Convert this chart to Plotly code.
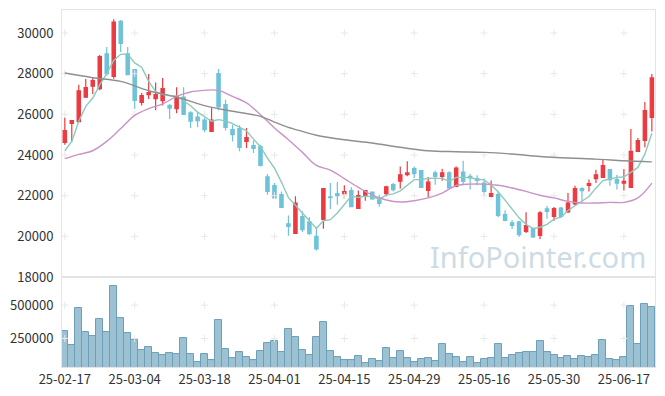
import plotly.graph_objects as go
from plotly.subplots import make_subplots

dates = [
    "25-02-17", "25-02-18", "25-02-19", "25-02-20", "25-02-21", "25-02-24", "25-02-25", "25-02-26", "25-02-27", "25-02-28",
    "25-03-04", "25-03-05", "25-03-06", "25-03-07", "25-03-10", "25-03-11", "25-03-12", "25-03-13", "25-03-14", "25-03-17",
    "25-03-18", "25-03-19", "25-03-20", "25-03-21", "25-03-24", "25-03-25", "25-03-26", "25-03-27", "25-03-28", "25-03-31",
    "25-04-01", "25-04-02", "25-04-03", "25-04-04", "25-04-07", "25-04-08", "25-04-09", "25-04-10", "25-04-11", "25-04-14",
    "25-04-15", "25-04-16", "25-04-17", "25-04-18", "25-04-21", "25-04-22", "25-04-23", "25-04-24", "25-04-25", "25-04-28",
    "25-04-29", "25-04-30", "25-05-02", "25-05-07", "25-05-08", "25-05-09", "25-05-12", "25-05-13", "25-05-14", "25-05-15",
    "25-05-16", "25-05-19", "25-05-20", "25-05-21", "25-05-22", "25-05-23", "25-05-26", "25-05-27", "25-05-28", "25-05-29",
    "25-05-30", "25-06-02", "25-06-04", "25-06-05", "25-06-09", "25-06-10", "25-06-11", "25-06-12", "25-06-13", "25-06-16",
    "25-06-17", "25-06-18", "25-06-19", "25-06-20", "25-06-23",
]

open_ = [24620, 25560, 25640, 26840, 27380, 27260, 28980, 27870, 30570, 28970,
         28200, 26590, 26970, 26770, 26670, 26440, 26280, 26850, 26070, 25870,
         25720, 25160, 28000, 26480, 25250, 25300, 24670, 24460, 24410, 22920,
         22490, 22050, 20620, 20150, 20970, 20710, 20000, 20840, 21940, 22100,
         22100, 22250, 21380, 21970, 22180, 21800, 22100, 22540, 22710, 23030,
         23330, 23230, 22260, 23120, 22950, 23120, 22460, 23160, 22950, 22840,
         22620, 21970, 22050, 21070, 20660, 20710, 20250, 20390, 20050, 21350,
         20980, 21390, 21200, 21590, 22350, 22510, 22840, 22900, 23280, 22790,
         22620, 22410, 24180, 24720, 25850]
high = [25850, 25690, 27460, 27740, 27840, 28920, 29310, 30670, 30640, 29310,
        28200, 27050, 27980, 27570, 27790, 26490, 27330, 27330, 26150, 26110,
        25900, 26340, 28230, 26720, 25490, 25460, 25330, 24710, 24510, 23070,
        22620, 22210, 21030, 21970, 21230, 20950, 20460, 22350, 22620, 22670,
        22510, 22410, 22250, 22250, 22210, 22050, 22490, 22620, 23440, 23690,
        23440, 23230, 22920, 23230, 23330, 23200, 23440, 23720, 23070, 23000,
        22840, 22750, 22210, 21280, 20790, 20770, 21180, 20440, 21230, 21510,
        21440, 21440, 22130, 22490, 22410, 22790, 23280, 23800, 23280, 23030,
        23310, 25280, 24840, 26610, 27980]
low = [24510, 24670, 25610, 26800, 27000, 27180, 27900, 27750, 29070, 27950,
       26260, 26430, 26750, 26200, 26430, 25770, 26050, 26000, 25330, 25360,
       25120, 25160, 26200, 25200, 24670, 24180, 24350, 24100, 23430, 22050,
       21840, 21390, 20030, 20150, 20210, 20080, 19300, 20380, 21350, 21560,
       21850, 21430, 21350, 21750, 21800, 21460, 21970, 22210, 22350, 22950,
       22870, 22380, 21940, 22540, 22740, 22350, 22420, 22510, 22300, 22510,
       22050, 21920, 20940, 20740, 20360, 19970, 20170, 19920, 19870, 20870,
       20770, 20900, 21150, 21530, 21720, 22210, 22620, 22870, 22490, 22300,
       22260, 22410, 24340, 24380, 25160]
close = [25200, 25690, 27160, 27310, 27660, 28840, 28000, 30540, 29490, 27950,
         26690, 26920, 27070, 26970, 27260, 26310, 26870, 26000, 25660, 25690,
         25250, 25720, 26360, 25360, 25000, 24380, 24850, 24330, 23490, 22210,
         21890, 21430, 20490, 21640, 20330, 20130, 19380, 22350, 21900, 22000,
         22200, 21460, 22000, 22250, 21840, 21620, 22430, 22300, 23030, 23120,
         23080, 22410, 22670, 22950, 23120, 22380, 23360, 22710, 22870, 22750,
         22210, 22100, 21030, 20790, 20540, 20080, 20530, 19970, 21150, 21230,
         21360, 20980, 21640, 22350, 22250, 22590, 23030, 23480, 22790, 22620,
         22710, 24180, 24710, 26180, 27790]
volume = [309800, 204660, 474970, 302300, 272250, 392380, 302300, 642650, 399890, 294780,
          242220, 167140, 189660, 144610, 129600, 144610, 137100, 257250, 137100, 77040,
          137100, 92060, 384870, 174650, 107070, 152120, 114580, 92060, 159630, 219690,
          234700, 152120, 317300, 264740, 167140, 129600, 264740, 369860, 159630, 114580,
          92060, 92060, 122090, 69530, 99560, 84550, 182160, 107070, 159630, 107070,
          77040, 99560, 107070, 84550, 212190, 137100, 114580, 77040, 114580, 69530,
          99560, 107070, 212190, 107070, 129600, 144610, 152120, 152120, 234700, 152120,
          129600, 107070, 122090, 99560, 122090, 114580, 129600, 242220, 99560, 92060,
          114580, 492490, 212190, 504980, 482460]

ma5 = [24210, 24670, 25660, 26390, 26800, 27450, 28000, 28650, 28950, 28960,
       28530, 28320, 27620, 27120, 26980, 26910, 26900, 26680, 26420, 26110,
       25890, 25660, 25740, 25680, 25540, 25360, 25190, 24780, 24410, 23850,
       23350, 22670, 21900, 21530, 21160, 20800, 20390, 20770, 20820, 21150,
       21570, 21980, 21910, 21980, 21950, 21830, 22030, 22090, 22240, 22500,
       22790, 22790, 22860, 22850, 22850, 22710, 22900, 22900, 22890, 22810,
       22780, 22530, 22190, 21780, 21330, 20910, 20590, 20380, 20450, 20590,
       20850, 20940, 21270, 21510, 21720, 21960, 22370, 22740, 22820, 22900,
       22920, 23150, 23390, 24040, 25070]

ma20_idx = [0, 2, 4, 6, 8, 10, 12, 14, 16, 18, 20, 22, 24, 26, 28, 30, 32, 34, 36, 38, 40,
            42, 44, 46, 48, 50, 52, 54, 56, 58, 60, 62, 64, 66, 68, 70, 72, 74, 76, 78, 80, 82, 84]
ma20 = [23820, 24030, 24210, 24670, 25300, 25950, 26280, 26510, 26880, 27100, 27180,
        27180, 26880, 26560, 25980, 25330, 24750, 24130, 23490, 23260, 22840,
        22410, 22030, 21790, 21690, 21750, 21890, 22130, 22500, 22570, 22570,
        22510, 22380, 22210, 22020, 21890, 21720, 21640, 21640, 21670, 21670, 21890, 22620]

ma60_idx = [0, 4, 8, 12, 16, 20, 24, 28, 30, 32, 34, 36, 40, 44, 48, 52, 56, 60, 64, 68, 72, 76, 80, 84]
ma60 = [28030, 27800, 27620, 27160, 26850, 26430, 26150, 25900, 25620, 25360, 25160, 24970,
        24750, 24590, 24380, 24210, 24160, 24130, 24050, 23930, 23850, 23800, 23720, 23660]

price_ticks = [18000, 20000, 22000, 24000, 26000, 28000, 30000]
volume_ticks = [250000, 500000]
grid_price = [20000, 22000, 24000, 26000, 28000, 30000]

RED = "#eb3b40"
BLUE = "#6ec3d8"
GRID = "#e8e8e8"

fig = make_subplots(rows=2, cols=1, shared_xaxes=True, vertical_spacing=0,
                    row_heights=[0.748, 0.252])

grid_x = dates[::10]
gx1, gy1 = [], []
for d in grid_x:
    for p in grid_price:
        gx1.append(d)
        gy1.append(p)
fig.add_trace(go.Scatter(x=gx1, y=gy1, mode="markers", hoverinfo="skip", showlegend=False,
                         marker=dict(symbol="cross-thin", size=5, line=dict(color=GRID, width=1))),
              row=1, col=1)
gx2, gy2 = [], []
for d in grid_x:
    for v in volume_ticks:
        gx2.append(d)
        gy2.append(v)
fig.add_trace(go.Scatter(x=gx2, y=gy2, mode="markers", hoverinfo="skip", showlegend=False,
                         marker=dict(symbol="cross-thin", size=5, line=dict(color=GRID, width=1))),
              row=2, col=1)

fig.add_trace(go.Candlestick(
    x=dates, open=open_, high=high, low=low, close=close,
    increasing=dict(line=dict(color=RED, width=1.2), fillcolor=RED),
    decreasing=dict(line=dict(color=BLUE, width=1.2), fillcolor=BLUE),
    whiskerwidth=0, showlegend=False, hoverinfo="skip"), row=1, col=1)

fig.add_trace(go.Scatter(x=dates, y=ma5, mode="lines", showlegend=False, hoverinfo="skip",
                         line=dict(color="#8ccabe", width=1.4)), row=1, col=1)
fig.add_trace(go.Scatter(x=[dates[i] for i in ma20_idx], y=ma20, mode="lines", showlegend=False,
                         hoverinfo="skip", line=dict(color="#c993c6", width=1.4, shape="spline")),
              row=1, col=1)
fig.add_trace(go.Scatter(x=[dates[i] for i in ma60_idx], y=ma60, mode="lines", showlegend=False,
                         hoverinfo="skip", line=dict(color="#8f8f8f", width=1.4, shape="spline")),
              row=1, col=1)

fig.add_trace(go.Bar(x=dates, y=volume, showlegend=False, hoverinfo="skip",
                     marker=dict(color="#9bc1d3", line=dict(color="#6d9fb8", width=1))),
              row=2, col=1)

axis_common = dict(showline=True, mirror=True, linecolor="#e4e4e4", linewidth=1,
                   showgrid=False, zeroline=False, ticks="", automargin=False)
tickfont = dict(family="Noto Sans CJK KR", size=13, color="#333333")

fig.update_xaxes(type="category", categoryorder="array", categoryarray=dates,
                 range=[-0.4, 84.45], **axis_common)
fig.update_xaxes(showticklabels=False, rangeslider=dict(visible=False), row=1, col=1)
fig.update_xaxes(tickmode="array", tickvals=dates[::10], ticktext=dates[::10],
                 tickfont=tickfont, tickangle=0, row=2, col=1)
fig.update_yaxes(range=[18000, 31130], tickmode="array", tickvals=price_ticks,
                 ticktext=[str(v) for v in price_ticks], ticklabelstandoff=5,
                 tickfont=tickfont, **axis_common, row=1, col=1)
fig.update_yaxes(range=[37000, 710000], tickmode="array", tickvals=volume_ticks,
                 ticktext=[str(v) for v in volume_ticks], ticklabelstandoff=5,
                 tickfont=tickfont, **axis_common, row=2, col=1)

fig.add_annotation(text="InfoPointer.com", xref="paper", yref="paper", x=0.802, y=0.31,
                   xanchor="center", yanchor="middle", showarrow=False,
                   font=dict(family="Noto Sans", size=29, color="#cddbe4"))

# page body has an 8px default margin, so the figure is sized/offset to compensate
fig.update_layout(width=657, height=388, margin=dict(l=54, r=10, t=2, b=29),
                  paper_bgcolor="white", plot_bgcolor="white", bargap=0,
                  showlegend=False, boxgap=0.32)

fig.write_html("out.html")
